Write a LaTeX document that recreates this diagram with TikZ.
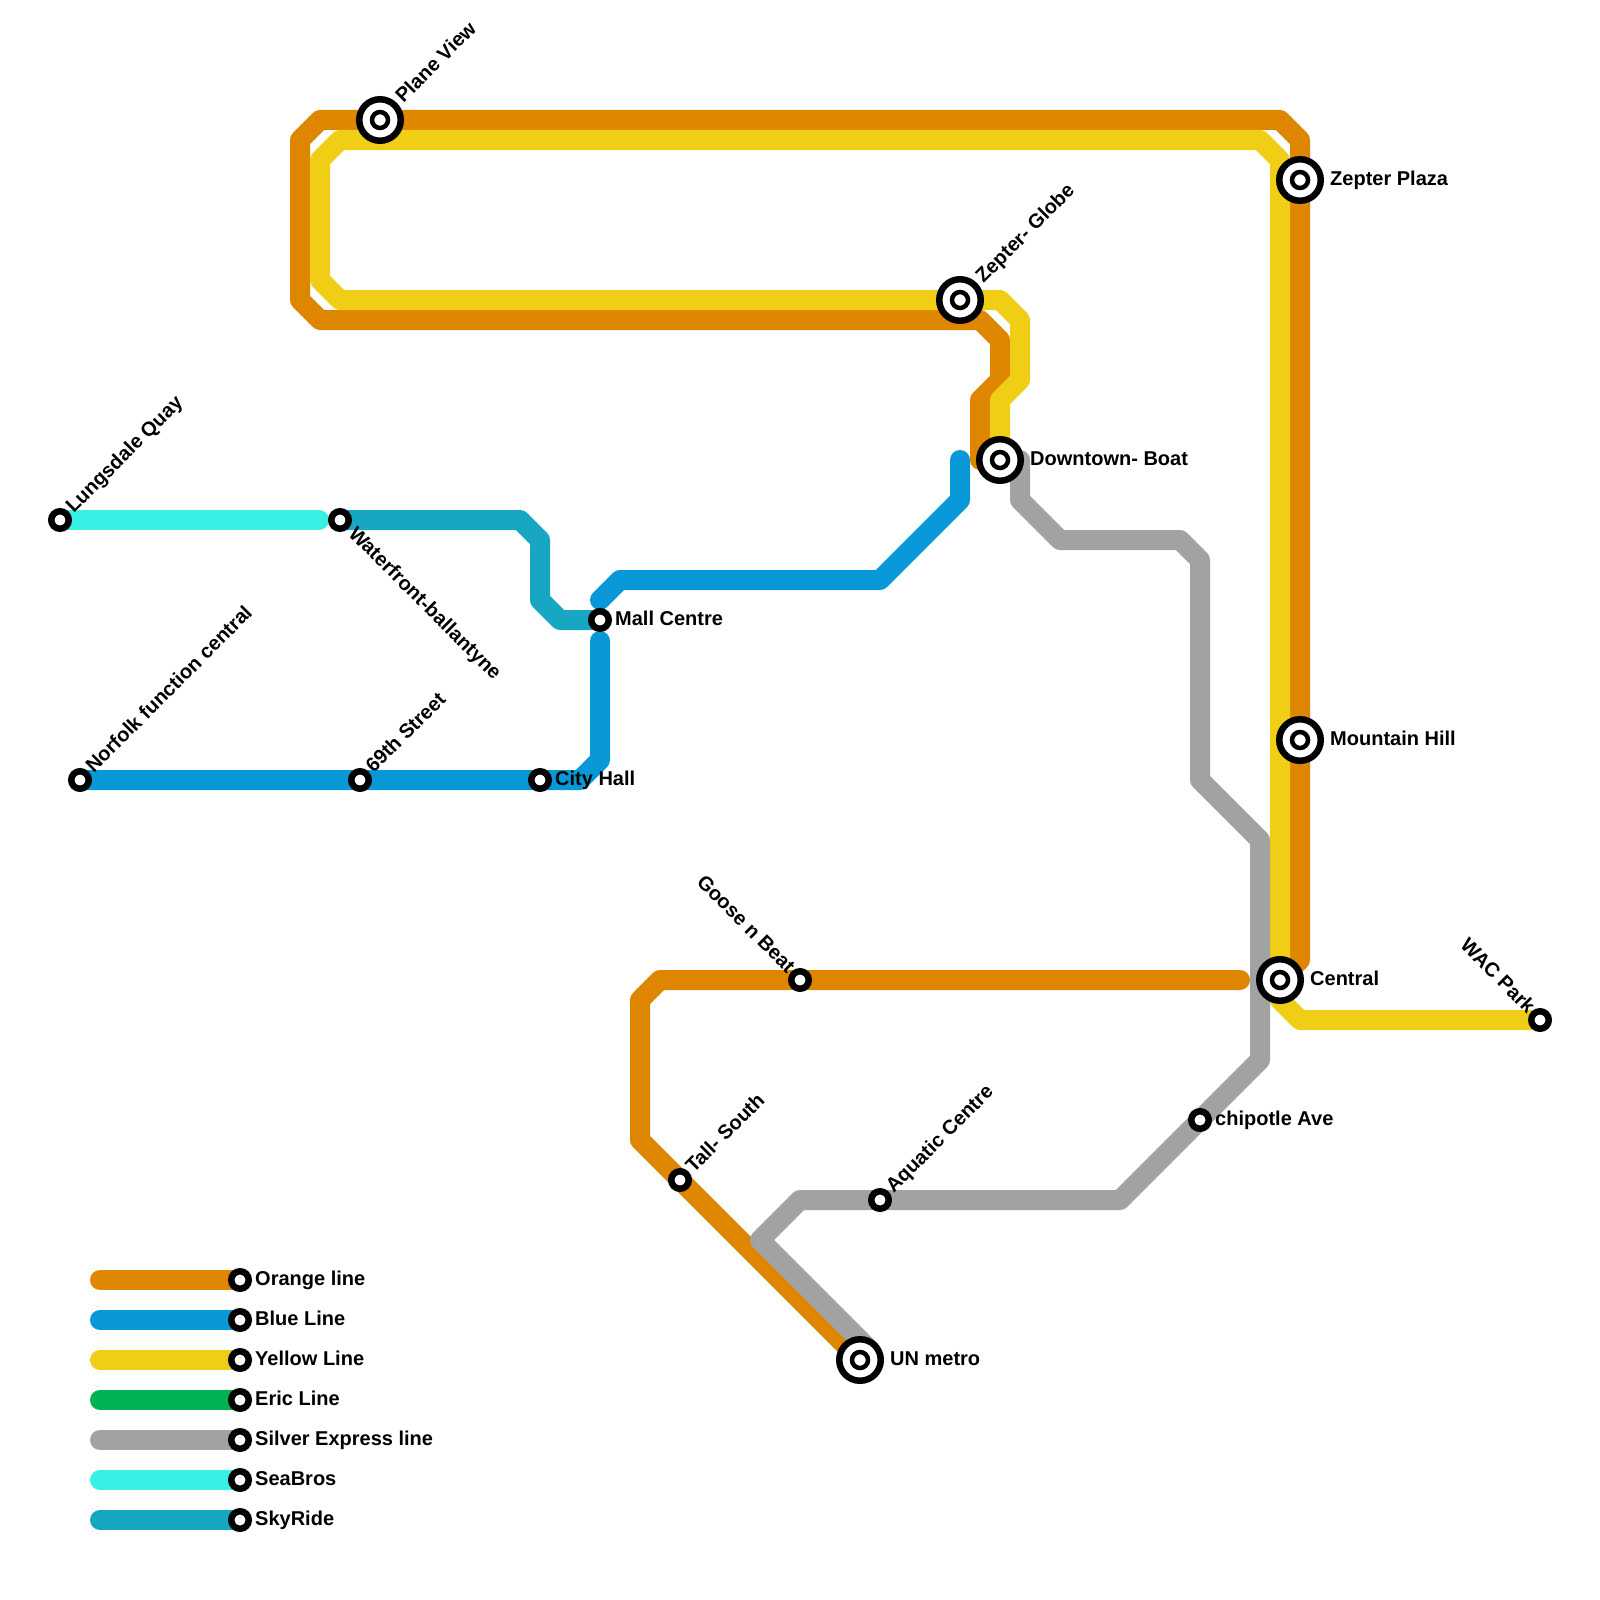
\documentclass[tikz,border=0pt]{standalone}
\usepackage{fontspec}
\setmainfont{Liberation Sans}
\usepackage{xcolor}
\usepackage{tikz}
\usetikzlibrary{backgrounds,positioning}
\definecolor{orangec}{HTML}{DF8600}
\definecolor{bluec}{HTML}{0897D7}
\definecolor{yellowc}{HTML}{F0CE15}
\definecolor{ericc}{HTML}{00B251}
\definecolor{silverc}{HTML}{A2A2A2}
\definecolor{seac}{HTML}{36F1E4}
\definecolor{skyc}{HTML}{18A7C3}
\tikzset{
  rail/.style={line width=20pt, line join=round, line cap=round},
  stn/.style={circle, draw=black, fill=white, line width=6.5pt, inner sep=0pt, minimum size=17.5pt},
  bigstn/.style={circle, draw=black, fill=white, line width=6.5pt, inner sep=0pt, minimum size=41.5pt,
    path picture={\draw[black, line width=4.5pt] (path picture bounding box.center) circle (8pt);}},
  namefont/.style={font=\bfseries\fontsize{20}{24}\selectfont, inner sep=0pt, text height=14.5pt, text depth=0pt},
  lbl/.style={namefont, yshift=2pt},
  lblup/.style={namefont, rotate=45, anchor=west, xshift=#1, yshift=2pt},
  lbldown/.style={namefont, rotate=-45, anchor=west, xshift=#1, yshift=2pt},
  lblback/.style={namefont, rotate=-45, anchor=east, xshift=-#1, yshift=2pt}
}

\begin{document}
\begin{tikzpicture}[x=1pt, y=-1pt]
\useasboundingbox (0,0) rectangle (1600,1600);
% stations
\node[bigstn] (plane) at (380,120) {};
\node[bigstn] (globe) at (960,300) {};
\node[bigstn] (downtown) at (1000,460) {};
\node[bigstn] (zplaza) at (1300,180) {};
\node[bigstn] (mountain) at (1300,740) {};
\node[bigstn] (central) at (1280,980) {};
\node[bigstn] (unmetro) at (860,1360) {};
\node[stn] (lungsdale) at (60,520) {};
\node[stn] (waterfront) at (340,520) {};
\node[stn] (mall) at (600,620) {};
\node[stn] (norfolk) at (80,780) {};
\node[stn] (sixtynine) at (360,780) {};
\node[stn] (cityhall) at (540,780) {};
\node[stn] (goose) at (800,980) {};
\node[stn] (tall) at (680,1180) {};
\node[stn] (aquatic) at (880,1200) {};
\node[stn] (chipotle) at (1200,1120) {};
\node[stn] (wac) at (1540,1020) {};
% station names
\node[lblup=28pt] (plane-t) at (plane.center) {Plane View};
\node[lblup=28pt] (globe-t) at (globe.center) {Zepter- Globe};
\node[lbl, right=6pt of zplaza] (zplaza-t) {Zepter Plaza};
\node[lbl, right=6pt of downtown] (downtown-t) {Downtown- Boat};
\node[lbl, right=6pt of mountain] (mountain-t) {Mountain Hill};
\node[lbl, right=6pt of central] (central-t) {Central};
\node[lbl, right=6pt of unmetro] (unmetro-t) {UN metro};
\node[lblup=14pt] (lungsdale-t) at (lungsdale.center) {Lungsdale Quay};
\node[lbldown=16pt] (waterfront-t) at (waterfront.center) {Waterfront-ballantyne};
\node[lbl, right=3pt of mall] (mall-t) {Mall Centre};
\node[lblup=14pt] (norfolk-t) at (norfolk.center) {Norfolk function central};
\node[lblup=14pt] (sixtynine-t) at (sixtynine.center) {69th Street};
\node[lbl, right=3pt of cityhall] (cityhall-t) {City Hall};
\node[lblback=13pt] (goose-t) at (goose.center) {Goose n Beat};
\node[lblup=14pt] (tall-t) at (tall.center) {Tall- South};
\node[lblup=14pt] (aquatic-t) at (aquatic.center) {Aquatic Centre};
\node[lbl, right=3pt of chipotle] (chipotle-t) {chipotle Ave};
\node[lblback=13pt] (wac-t) at (wac.center) {WAC Park};
% legend
\node[stn] (korange) at (240,1280) {};
\node[stn] (kblue) at (240,1320) {};
\node[stn] (kyellow) at (240,1360) {};
\node[stn] (keric) at (240,1400) {};
\node[stn] (ksilver) at (240,1440) {};
\node[stn] (ksea) at (240,1480) {};
\node[stn] (ksky) at (240,1520) {};
\coordinate[left=128pt of korange] (sorange);
\coordinate[left=128pt of kblue] (sblue);
\coordinate[left=128pt of kyellow] (syellow);
\coordinate[left=128pt of keric] (seric);
\coordinate[left=128pt of ksilver] (ssilver);
\coordinate[left=128pt of ksea] (ssea);
\coordinate[left=128pt of ksky] (ssky);
\node[lbl, right=3pt of korange] (korange-t) {Orange line};
\node[lbl, right=3pt of kblue] (kblue-t) {Blue Line};
\node[lbl, right=3pt of kyellow] (kyellow-t) {Yellow Line};
\node[lbl, right=3pt of keric] (keric-t) {Eric Line};
\node[lbl, right=3pt of ksilver] (ksilver-t) {Silver Express line};
\node[lbl, right=3pt of ksea] (ksea-t) {SeaBros};
\node[lbl, right=3pt of ksky] (ksky-t) {SkyRide};
% free ends
\coordinate (goldend) at (1240,980);
\coordinate (mallabove) at (600,600);
\coordinate (mallbelow) at (600,641);
\coordinate (bluetop) at (960,460);
\coordinate (seaend) at (319,520);
\coordinate (silverend) at (870,1350);
% lines go under the stations
\begin{scope}[on background layer]
\draw[rail, orangec] (central.center) -- (1300,960) -- (mountain.center) -- (zplaza.center) -- (1300,140) -- (1280,120) -- (plane.center) -- (320,120) -- (300,140) -- (300,300) -- (320,320) -- (980,320) -- (1000,340) -- (1000,380) -- (980,400) -- (980,460) -- (downtown.center);
\draw[rail, orangec] (goldend) -- (goose.center) -- (660,980) -- (640,1000) -- (640,1140) -- (tall.center) -- (unmetro.center);
\draw[rail, bluec] (norfolk.center) -- (sixtynine.center) -- (cityhall.center) -- (580,780) -- (600,760) -- (mallbelow);
\draw[rail, bluec] (mallabove) -- (620,580) -- (880,580) -- (960,500) -- (bluetop);
\draw[rail, yellowc] (wac.center) -- (1300,1020) -- (1280,1000) -- (central.center) -- (1280,160) -- (1260,140) -- (340,140) -- (320,160) -- (320,280) -- (340,300) -- (globe.center) -- (1000,300) -- (1020,320) -- (1020,380) -- (1000,400) -- (downtown.center);
\draw[rail, silverc] (downtown.center) -- (1020,460) -- (1020,500) -- (1060,540) -- (1180,540) -- (1200,560) -- (1200,780) -- (1260,840) -- (1260,1060) -- (chipotle.center) -- (1120,1200) -- (aquatic.center) -- (800,1200) -- (760,1240) -- (silverend);
\draw[rail, seac] (lungsdale.center) -- (seaend);
\draw[rail, skyc] (waterfront.center) -- (520,520) -- (540,540) -- (540,600) -- (560,620) -- (mall.center);
\draw[rail, orangec] (sorange) -- (korange.center);
\draw[rail, bluec] (sblue) -- (kblue.center);
\draw[rail, yellowc] (syellow) -- (kyellow.center);
\draw[rail, ericc] (seric) -- (keric.center);
\draw[rail, silverc] (ssilver) -- (ksilver.center);
\draw[rail, seac] (ssea) -- (ksea.center);
\draw[rail, skyc] (ssky) -- (ksky.center);
\end{scope}
\end{tikzpicture}
\end{document}
